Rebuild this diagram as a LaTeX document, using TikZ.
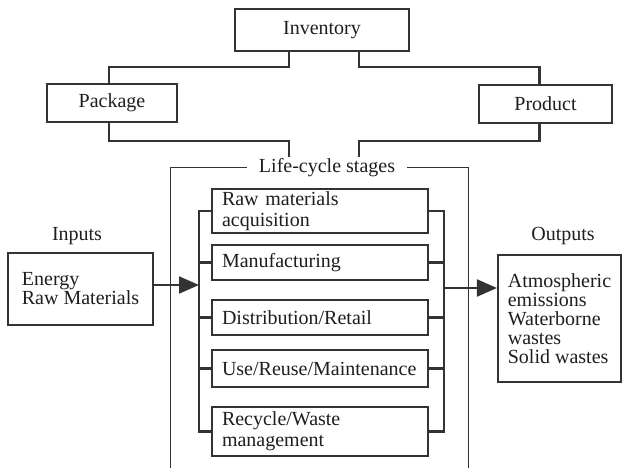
\documentclass[tikz,border=0pt]{standalone}
\usepackage{fontspec}
\setmainfont{Liberation Serif}
\usetikzlibrary{arrows.meta}
\definecolor{ink}{HTML}{333333}
\definecolor{txt}{HTML}{1E1E1E}
\begin{document}
\begin{tikzpicture}[x=1pt,y=-1pt,
  box/.style={draw=ink, line width=2.1pt, fill=white, inner sep=0pt,
    font=\fontsize{20pt}{21pt}\selectfont, text=txt},
  stagebox/.style={box, text width=196pt, inner xsep=10pt, align=left},
  iobox/.style={box, align=left, font=\fontsize{20pt}{19pt}\selectfont},
  conn/.style={draw=ink, line width=2.1pt},
  framel/.style={draw=ink, line width=1pt},
  lbl/.style={font=\fontsize{20pt}{21pt}\selectfont, text=txt, inner sep=0pt},
  arr/.style={conn, -{Triangle[length=20pt,width=17pt]}, fill=ink}]
\useasboundingbox (0,0) rectangle (623,468);

% top boxes
\node[box, minimum width=174pt, minimum height=42pt] (inv) at (322,30) {Inventory};
\node[box, minimum width=130pt, minimum height=38pt] (pkg) at (112,103) {Package};
\node[box, minimum width=133pt, minimum height=38pt] (prod) at (545.5,104) {Product};

% life-cycle frame
\node[lbl, inner xsep=12pt] (lcs) at (327,168) {Life-cycle stages};
\coordinate (lcL) at (289,157);
\coordinate (lcR) at (359,157);
\coordinate (fTL) at (170,167);
\coordinate (fTR) at (468,167);
\coordinate (fBL) at (170,468);
\coordinate (fBR) at (468,468);
\draw[framel] (lcs.west |- fTL) -- (fTL) -- (fBL);
\draw[framel] (lcs.east |- fTR) -- (fTR) -- (fBR);

% connectors in the top part
\draw[conn] ([xshift=-33pt]inv.south) -- ++(0,15) -| ([xshift=-3pt]pkg.north);
\draw[conn] ([xshift=37pt]inv.south) -- ++(0,15) -| ([xshift=-6pt]prod.north);
\draw[conn] ([xshift=-3pt]pkg.south) -- ++(0,18) -| (lcL);
\draw[conn] ([xshift=-6pt]prod.south) -- ++(0,17) -| (lcR);

% stages
\node[stagebox, minimum height=44pt] (s1) at (320,211) {Raw materials\\acquisition};
\node[stagebox, minimum height=35pt] (s2) at (320,262.5) {Manufacturing};
\node[stagebox, minimum height=35pt] (s3) at (320,317.5) {Distribution/Retail};
\node[stagebox, minimum height=37pt] (s4) at (320,368.5) {Use/Reuse/Maintenance};
\node[stagebox, minimum height=49pt] (s5) at (320,431.5) {Recycle/Waste\\management};

% buses
\coordinate (lb) at (199,0);
\coordinate (rb) at (444,0);
\draw[conn] (s1.west) -- (s1.west -| lb) -- (s5.west -| lb) -- (s5.west);
\draw[conn] (s1.east) -- (s1.east -| rb) -- (s5.east -| rb) -- (s5.east);
\foreach \s in {s2,s3,s4}{
  \draw[conn] (\s.west) -- (\s.west -| lb);
  \draw[conn] (\s.east) -- (\s.east -| rb);
}

% inputs
\node[lbl] (inl) at (77,236) {Inputs};
\node[iobox, minimum width=145pt, minimum height=72pt] (inp) at (80.5,289) {Energy\\Raw Materials};
\coordinate (ia) at ([yshift=4pt]inp.east);
\draw[arr] (ia) -- (ia -| lb);

% outputs
\node[lbl] (outl) at (563,236) {Outputs};
\node[iobox, minimum width=123pt, minimum height=127pt] (out) at (559.5,318.5)
  {Atmospheric\\emissions\\Waterborne\\wastes\\Solid wastes};
\coordinate (oa) at (444,288);
\draw[arr] (oa) -- (oa -| out.west);
\end{tikzpicture}
\end{document}
